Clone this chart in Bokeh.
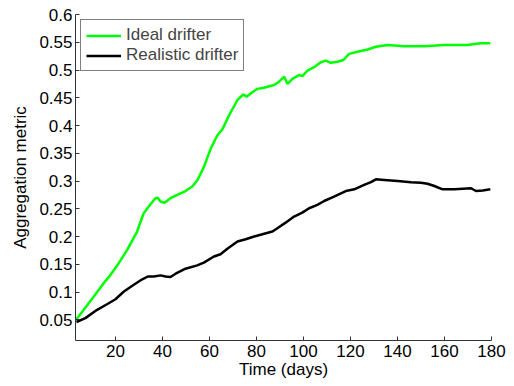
from bokeh.plotting import figure
from bokeh.models import FixedTicker, CustomJSTickFormatter, Range1d, Legend, LegendItem
from bokeh.embed import file_html
from bokeh.resources import INLINE

# Ideal drifter aggregation metric over time
ideal_days = [3.4, 6.5, 10.8, 15.0, 17.9, 21.4, 25.0, 29.2, 32.0, 34.9, 37.0, 38.0, 39.2, 40.9,
              43.4, 46.3, 49.8, 52.7, 54.8, 57.6, 60.5, 63.3, 65.5, 68.3, 71.9, 74.4, 75.8,
              78.2, 80.4, 83.2, 87.5, 89.6, 91.8, 93.2, 95.3, 98.1, 99.5, 101.7, 104.5, 107.4,
              109.5, 111.6, 114.5, 117.0, 119.4, 123.0, 127.3, 130.8, 135.8, 142.9, 151.4,
              159.9, 169.9, 172.7, 175.5, 179.5]
ideal_vals = [0.051, 0.068, 0.092, 0.116, 0.131, 0.152, 0.176, 0.209, 0.242, 0.258, 0.269, 0.270,
              0.263, 0.261, 0.269, 0.275, 0.282, 0.290, 0.301, 0.325, 0.358, 0.382, 0.393, 0.418,
              0.446, 0.456, 0.452, 0.460, 0.466, 0.468, 0.473, 0.479, 0.488, 0.475, 0.484, 0.491,
              0.489, 0.499, 0.505, 0.514, 0.517, 0.513, 0.515, 0.518, 0.529, 0.533, 0.537, 0.542,
              0.545, 0.543, 0.543, 0.545, 0.545, 0.547, 0.548, 0.548]

# Realistic drifter aggregation metric over time
real_days = [3.4, 7.2, 12.2, 16.4, 20.0, 23.6, 27.8, 31.4, 33.8, 36.3, 39.2, 41.3, 43.4, 45.6,
             49.8, 54.8, 57.6, 61.9, 64.7, 67.6, 71.9, 75.4, 79.0, 82.5, 86.8, 88.9, 92.4, 96.0,
             99.5, 102.4, 105.9, 108.8, 113.0, 118.0, 121.6, 125.8, 128.7, 130.8, 134.4, 140.1,
             145.7, 150.0, 152.8, 155.7, 159.2, 164.2, 171.3, 173.4, 176.3, 179.5]
real_vals = [0.046, 0.053, 0.068, 0.078, 0.087, 0.101, 0.113, 0.123, 0.128, 0.128, 0.130, 0.128,
             0.127, 0.133, 0.142, 0.148, 0.153, 0.164, 0.168, 0.178, 0.191, 0.195, 0.200, 0.204,
             0.209, 0.215, 0.225, 0.236, 0.243, 0.251, 0.257, 0.264, 0.272, 0.282, 0.285, 0.293,
             0.298, 0.303, 0.302, 0.300, 0.298, 0.297, 0.295, 0.291, 0.285, 0.285, 0.287, 0.282,
             0.283, 0.285]

x_ticks = [20, 40, 60, 80, 100, 120, 140, 160, 180]
y_ticks = [0.05, 0.1, 0.15, 0.2, 0.25, 0.3, 0.35, 0.4, 0.45, 0.5, 0.55, 0.6]

FONT = "Liberation Sans"
FS = "17px"

p = figure(width=514, height=386, output_backend="svg", toolbar_location=None,
           x_range=Range1d(3, 180), y_range=Range1d(0.0127, 0.6),
           frame_width=416, frame_height=326,
           min_border_left=75, min_border_right=23, min_border_top=14, min_border_bottom=46)
p.background_fill_color = "white"
p.border_fill_color = "white"
p.outline_line_color = None
p.xgrid.visible = False
p.ygrid.visible = False

l1 = p.line(ideal_days, ideal_vals, line_color="#00ff00", line_width=2.5)
l2 = p.line(real_days, real_vals, line_color="black", line_width=2.5)

for ax in (p.xaxis[0], p.yaxis[0]):
    ax.axis_line_color = "#333333"
    ax.major_tick_line_color = "#333333"
    ax.major_tick_in = 4
    ax.major_tick_out = 0
    ax.minor_tick_line_color = None
    ax.major_label_text_font = FONT
    ax.major_label_text_font_size = FS
    ax.major_label_text_color = "black"
    ax.axis_label_text_font = FONT
    ax.axis_label_text_font_size = FS
    ax.axis_label_text_font_style = "normal"
    ax.axis_label_text_color = "black"

p.xaxis.ticker = FixedTicker(ticks=x_ticks)
p.yaxis.ticker = FixedTicker(ticks=y_ticks)
p.yaxis.formatter = CustomJSTickFormatter(code="return (Math.round(tick*100)/100).toString();")
p.xaxis.axis_label = "Time (days)"
p.yaxis.axis_label = "Aggregation metric"
p.xaxis.major_label_standoff = 4
p.yaxis.major_label_standoff = 3
p.xaxis.axis_label_standoff = 0
p.yaxis.axis_label_standoff = 6

legend = Legend(items=[LegendItem(label="Ideal drifter", renderers=[l1]),
                       LegendItem(label="Realistic drifter", renderers=[l2])],
                location="top_left", margin=5)
legend.border_line_color = "black"
legend.border_line_width = 1
legend.background_fill_color = "white"
legend.background_fill_alpha = 1
legend.label_text_font = FONT
legend.label_text_font_size = FS
legend.glyph_width = 35
legend.glyph_height = 19
legend.label_height = 19
legend.label_standoff = 5
legend.padding = 5
legend.spacing = 0
p.add_layout(legend)

open("out.html", "w").write(file_html(p, INLINE))
